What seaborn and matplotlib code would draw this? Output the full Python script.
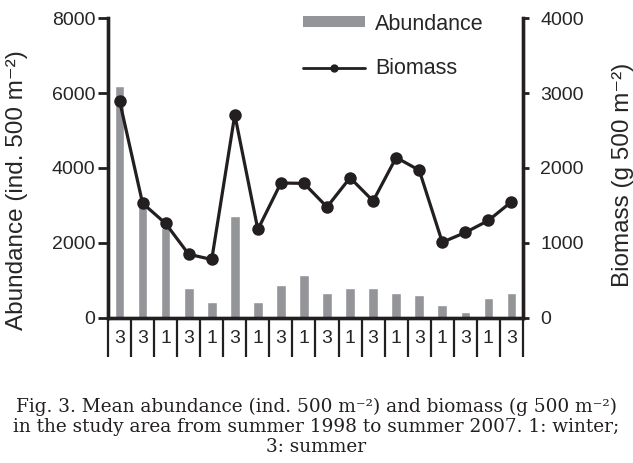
import numpy as np
import pandas as pd
import matplotlib
matplotlib.use("Agg")
import matplotlib.pyplot as plt
import seaborn as sns
from matplotlib.patches import Patch
from matplotlib.lines import Line2D

# values
seasons = ["3", "3", "1", "3", "1", "3", "1", "3", "1", "3", "1", "3", "1", "3", "1", "3", "1", "3"]
abundance = [6200, 3000, 2400, 800, 430, 2730, 430, 880, 1150, 670, 800, 800, 670, 610, 350, 160, 530, 670]
biomass = [2900, 1530, 1260, 850, 780, 2710, 1180, 1800, 1795, 1480, 1870, 1560, 2140, 1970, 1010, 1140, 1300, 1550]

sns.set_style("ticks")
sans = ["Liberation Sans", "DejaVu Sans"]
serif = ["DejaVu Serif"]
plt.rcParams["font.family"] = sans
ink = "#231f20"
grey = "#939598"

df = pd.DataFrame({"idx": np.arange(len(seasons)), "abundance": abundance, "biomass": biomass})

fig = plt.figure(figsize=(6.33, 4.63), dpi=100)
ax = fig.add_axes([0.1706, 0.3132, 0.6556, 0.6479])

sns.barplot(data=df, x="idx", y="abundance", color=grey, saturation=1,
            width=0.42, ax=ax, native_scale=True)
ax.set_xlim(-0.5, len(seasons) - 0.5)
ax.set_ylim(0, 8000)
ax.set_yticks([0, 2000, 4000, 6000, 8000])
ax.set_ylabel("Abundance (ind. 500 m⁻²)", fontsize=17.5)
ax.yaxis.set_label_coords(-0.193, 0.427)
ax.set_xlabel("")

ax2 = ax.twinx()
sns.lineplot(data=df, x="idx", y="biomass", color=ink, lw=2.3, marker="o",
             markersize=9, markeredgewidth=0, ax=ax2)
ax2.set_ylim(0, 4000)
ax2.set_yticks([0, 1000, 2000, 3000, 4000])
ax2.set_ylabel("Biomass (g 500 m⁻²)", fontsize=17.5, rotation=90)
ax2.yaxis.set_label_coords(1.214, 0.477)
ax2.set_xlabel("")

for a in (ax, ax2):
    for s in a.spines.values():
        s.set_linewidth(2.4)
        s.set_color(ink)
    a.spines["top"].set_visible(False)
ax.tick_params(axis="y", labelsize=14, width=2, length=7.5, color=ink, pad=1.5)
ax2.tick_params(axis="y", labelsize=14, width=2, length=4.5, color=ink, pad=8)

# season labels between separator lines
ax.set_xticks(np.arange(len(seasons)))
ax.set_xticklabels(seasons, fontsize=14)
ax.set_xticks(np.arange(len(seasons) + 1) - 0.5, minor=True)
ax.tick_params(axis="x", which="major", length=0, pad=9)
ax.tick_params(axis="x", which="minor", length=28, width=1.6, color=ink)
ax2.tick_params(axis="x", which="both", length=0)

handles = [Patch(facecolor=grey, edgecolor="none"),
           Line2D([], [], color=ink, lw=2, marker="o", markersize=6, markeredgewidth=0)]
ax.legend(handles, ["Abundance", "Biomass"], loc="upper left", bbox_to_anchor=(0.47, 1.015),
          frameon=False, fontsize=15.5, handlelength=2.9, handleheight=0.4,
          labelspacing=1.1, handletextpad=0.45, borderpad=0, borderaxespad=0)

caption = ("Fig. 3. Mean abundance (ind. 500 m⁻²) and biomass (g 500 m⁻²)\n"
           "in the study area from summer 1998 to summer 2007. 1: winter;\n"
           "3: summer")
fig.text(0.5, 0.015, caption, ha="center", va="bottom", fontsize=13.3,
         family=serif, linespacing=1.15, color=ink)

fig.savefig("out.png", dpi=100)
